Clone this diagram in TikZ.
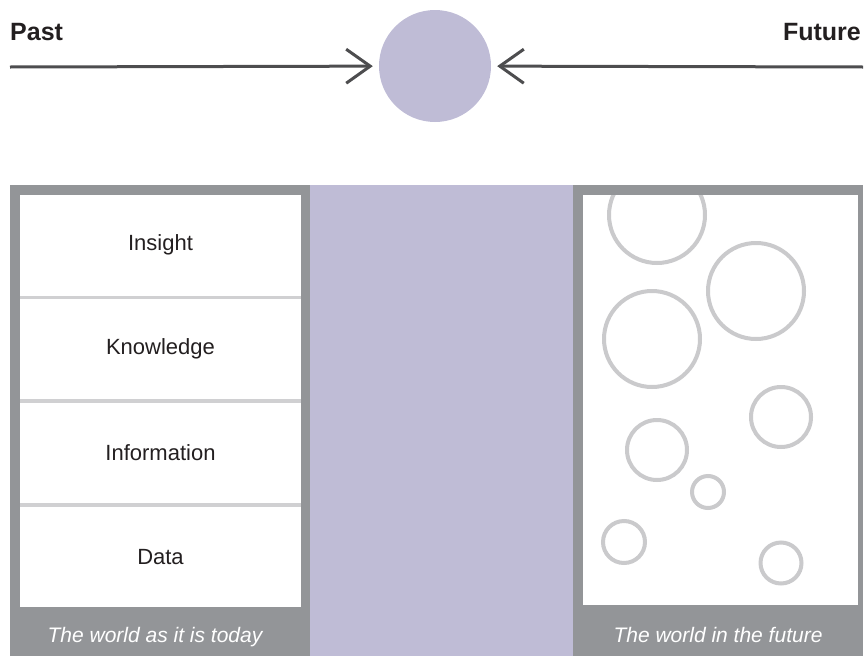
\documentclass[tikz,border=0pt]{standalone}
\usepackage{fontspec}
\setmainfont{Liberation Sans}
\usetikzlibrary{positioning,arrows.meta}

\definecolor{framegray}{HTML}{939598}
\definecolor{lavender}{HTML}{BFBCD6}
\definecolor{sepgray}{HTML}{D0D0D2}
\definecolor{bubblegray}{HTML}{CACACC}
\definecolor{arrowgray}{HTML}{4D4D4F}
\definecolor{textdark}{HTML}{231F20}

\tikzset{
    cell/.style = {fill=white, minimum width=281pt, minimum height=100.5pt,
                   inner sep=0pt, font=\fontsize{22}{26}\selectfont, text=textdark},
    caption/.style = {anchor=base, font=\fontsize{21}{24}\selectfont\itshape, text=white},
    heading/.style = {font=\fontsize{25}{30}\selectfont\bfseries, text=textdark, inner sep=0pt},
    timeline/.style = {arrowgray, line width=3pt,
                       -{Straight Barb[length=24pt, width=34pt, line width=3pt]}},
    bubble/.style = {bubblegray, line width=4pt},
}

\begin{document}
\begin{tikzpicture}[x=1pt, y=-1pt]

                \useasboundingbox (0,0) rectangle (867,656);

                % top: past and future meeting in the present
                \node (past) at (10,40) [heading, anchor=base west] {Past};
                \node (future) at (861,40) [heading, anchor=base east] {Future};
                \node (now) at (435,66) [circle, fill=lavender, minimum size=112pt, inner sep=0pt] {};
                \coordinate (pastend) at (10,67);
                \coordinate (futureend) at (863,67);
                \draw[timeline, shorten >=6pt] (pastend) -- (now);
                \draw[timeline, shorten >=6pt] (futureend) -- (now);

                % panels
                \fill[lavender] (310,185) rectangle (573,656);
                \fill[framegray] (10,185) rectangle (310,656);
                \fill[framegray] (573,185) rectangle (863,656);

                % today: stacked levels
                \fill[sepgray] (20,195) rectangle (301,606);
                \node (insight) at (160.5,245.25) [cell] {Insight};
                \node (knowledge) [cell, below=3pt of insight] {Knowledge};
                \node (information) [cell, below=3pt of knowledge] {Information};
                \node (data) [cell, below=3pt of information] {Data};
                \node (today) at (155,642) [caption] {The world as it is today};

                % future: loose bubbles
                \fill[white] (583,195) rectangle (858,605);
                \begin{scope}
                    \clip (583,195) rectangle (858,605);
                    \draw[bubble] (657,215) circle (48);
                    \draw[bubble] (756,291) circle (48);
                    \draw[bubble] (652,339) circle (48);
                    \draw[bubble] (781,417) circle (30);
                    \draw[bubble] (657,450) circle (30);
                    \draw[bubble] (708,492) circle (16);
                    \draw[bubble] (624,542) circle (21);
                    \draw[bubble] (781,563) circle (20.5);
                \end{scope}
                \node (tomorrow) at (718,642) [caption] {The world in the future};

            \end{tikzpicture}
\end{document}
